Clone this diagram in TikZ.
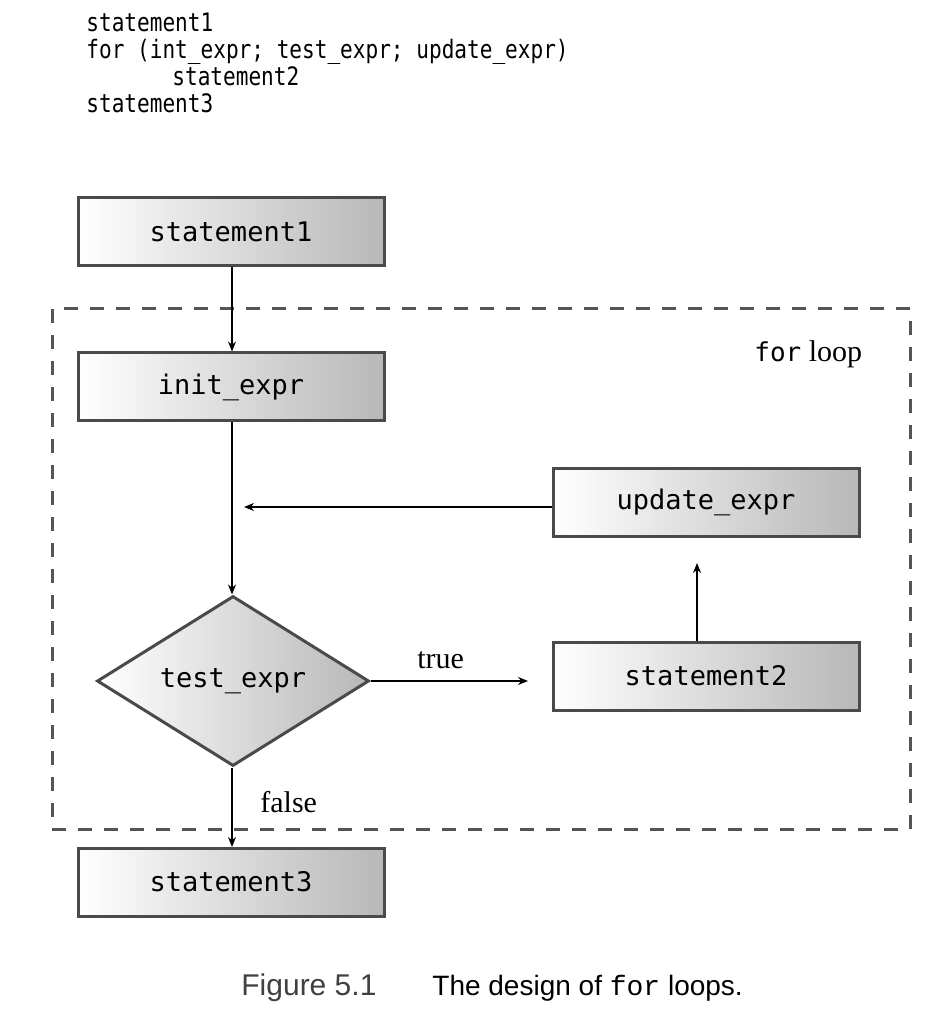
\documentclass[tikz,border=0pt]{standalone}
\usepackage{fontspec}
\setmainfont{Liberation Sans}
\setmonofont{DejaVu Sans Mono}
\newfontfamily\serifl{Liberation Serif}
\newfontfamily\courierl{Liberation Mono}
\newfontfamily\codefont{DejaVu Sans Mono}[FakeStretch=0.83]
\usetikzlibrary{shapes.geometric,arrows.meta}
\definecolor{edgegray}{HTML}{4A4A4A}
\definecolor{dashgray}{HTML}{555555}
\tikzset{
  stmtbox/.style={draw=edgegray, line width=1.5pt, left color=white, right color=black!28,
    minimum width=153pt, minimum height=34pt, inner sep=0pt,
    font=\ttfamily\fontsize{13.5}{16}\selectfont},
  decbox/.style={diamond, draw=edgegray, line width=1.5pt, left color=white, right color=black!28,
    minimum width=136pt, minimum height=85pt, inner sep=0pt, shape aspect=1.6,
    font=\ttfamily\fontsize{13.5}{16}\selectfont},
  codeline/.style={anchor=base west, inner sep=0pt, font=\codefont\fontsize{12.7}{14}\selectfont},
  lbl/.style={inner sep=0pt, anchor=base west, font=\serifl\fontsize{15}{18}\selectfont},
  conn/.style={line width=0.75pt, -{Stealth[length=5pt,width=4pt]}},
  loopframe/.style={draw=dashgray, line width=1.5pt, dash pattern=on 7pt off 6pt}
}
\begin{document}
\begin{tikzpicture}[x=0.5pt,y=-0.5pt]
\useasboundingbox (0,0) rectangle (946,1020);
% code listing
\node[codeline] (c1) at (86,32) {statement1};
\node[codeline] (c2) at (86,59) {for (int\_expr; test\_expr; update\_expr)};
\node[codeline] (c3) at (172,86) {statement2};
\node[codeline] (c4) at (86,113) {statement3};
% loop frame
\draw[loopframe] (52,309) rectangle (910,829);
\node[lbl] (forlbl) at (754,362) {{\ttfamily\fontsize{13}{15}\selectfont for} loop};
% nodes
\node[stmtbox] (s1) at (231,232) {statement1};
\node[stmtbox] (init) at (231,387) {init\_expr};
\node[stmtbox] (upd) at (706,502) {update\_expr};
\node[decbox] (test) at (233,681) {test\_expr};
\node[stmtbox] (s2) at (706,676) {statement2};
\node[stmtbox] (s3) at (231,882) {statement3};
% connectors
\coordinate (join) at (232,507);
\coordinate (joinend) at (244,507);
\coordinate (trueend) at (528,681);
\coordinate (s2top) at (697,643);
\coordinate (updend) at (697,563);
\coordinate (s3end) at (232,847);
\draw[conn] (s1.south -| join) -- (init.north -| join);
\draw[conn] (init.south -| join) -- (test.north -| join);
\draw[conn] (upd.west |- join) -- (joinend);
\draw[conn] (test.east) -- (trueend);
\draw[conn] (s2.north -| s2top) -- (updend);
\draw[conn] (test.south -| join) -- (s3end);
% labels
\node[lbl] (truelbl) at (417,668) {true};
\node[lbl] (falselbl) at (260,812) {false};
% caption
\node[anchor=base west, inner sep=0pt, font=\fontsize{15}{17}\selectfont, text=black!75] (cap1) at (241,995) {Figure 5.1};
\node[anchor=base west, inner sep=0pt, font=\fontsize{14}{17}\selectfont] (cap2) at (432,995) {The design of {\courierl for} loops.};
\end{tikzpicture}
\end{document}
